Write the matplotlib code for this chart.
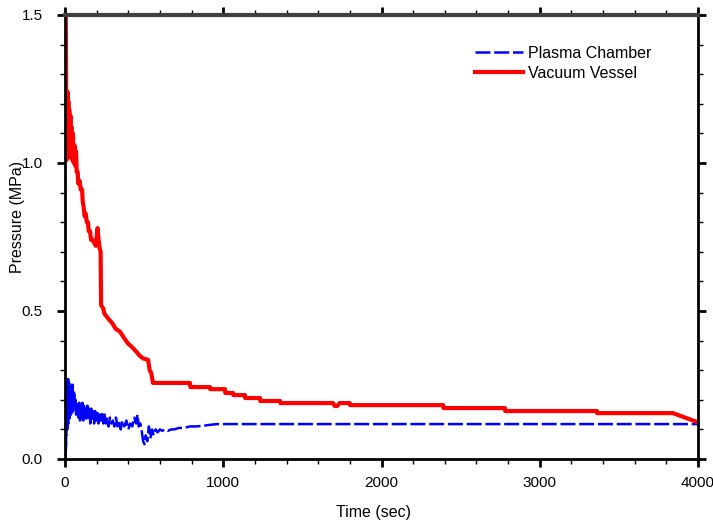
import numpy as np
import matplotlib
matplotlib.use('Agg')
import matplotlib.pyplot as plt
from matplotlib.ticker import MultipleLocator

plt.rcParams['font.family'] = ['Liberation Sans', 'DejaVu Sans']

# Vacuum Vessel (red)
t_vv = [5, 7, 8, 9, 10, 12, 14, 16, 18, 21,
        24, 27, 30, 34, 38, 42, 46, 50, 55, 60,
        66, 70, 74, 80, 84, 92, 100, 108, 112, 118,
        124, 130, 138, 145, 150, 158, 165, 175, 185, 195,
        200, 206, 212, 220, 225, 228, 240, 250, 265, 280,
        297, 320, 348, 372, 398, 420, 455, 470, 493, 525,
        535, 545, 556, 790, 792, 916, 918, 1011, 1013, 1062,
        1064, 1137, 1139, 1232, 1234, 1359, 1361, 1693, 1705, 1720,
        1735, 1800, 1802, 2390, 2392, 2780, 2782, 3361, 3363, 3842,
        3994]
p_vv = [1.50, 1.30, 1.04, 1.23, 1.01, 1.22, 1.03, 1.24, 1.02, 1.21,
        1.05, 1.18, 1.02, 1.16, 1.04, 1.12, 1.01, 1.10, 1.00, 1.06,
        0.99, 1.04, 0.97, 0.97, 0.93, 0.94, 0.91, 0.91, 0.87, 0.85,
        0.82, 0.83, 0.80, 0.80, 0.77, 0.77, 0.74, 0.74, 0.73, 0.72,
        0.75, 0.78, 0.74, 0.71, 0.70, 0.52, 0.51, 0.49, 0.48, 0.47,
        0.46, 0.44, 0.43, 0.41, 0.39, 0.38, 0.36, 0.35, 0.34, 0.335,
        0.30, 0.29, 0.257, 0.257, 0.243, 0.243, 0.236, 0.236, 0.223, 0.223,
        0.216, 0.216, 0.206, 0.206, 0.196, 0.196, 0.189, 0.189, 0.179, 0.179,
        0.189, 0.189, 0.182, 0.182, 0.172, 0.172, 0.162, 0.162, 0.155, 0.155,
        0.125]

# Plasma Chamber (blue)
t_pc = [0, 1, 2, 3, 4, 5, 6, 7, 8, 9,
        10, 12, 14, 16, 18, 20, 22, 24, 26, 28,
        30, 32, 34, 36, 38, 40, 43, 46, 49, 52,
        55, 58, 62, 66, 70, 74, 78, 82, 86, 90,
        95, 100, 105, 110, 115, 120, 125, 130, 136, 142,
        148, 154, 160, 166, 172, 178, 184, 190, 197, 204,
        211, 218, 226, 234, 242, 250, 258, 266, 275, 284,
        293, 302, 312, 322, 332, 342, 352, 362, 375, 388,
        400, 412, 425, 438, 450, 458, 466, 476, 486, 494,
        502, 510, 520, 530, 540, 550, 560, 572, 585, 600,
        615, 630, 650, 670, 690, 720, 750, 790, 830, 870,
        910, 960, 1000, 4000]
p_pc = [0.00, 0.25, 0.02, 0.26, 0.05, 0.24, 0.03, 0.27, 0.08, 0.25,
        0.12, 0.26, 0.10, 0.25, 0.14, 0.27, 0.12, 0.24, 0.15, 0.26,
        0.13, 0.23, 0.16, 0.25, 0.15, 0.22, 0.17, 0.26, 0.16, 0.21,
        0.17, 0.23, 0.16, 0.20, 0.15, 0.19, 0.16, 0.18, 0.14, 0.19,
        0.13, 0.18, 0.14, 0.19, 0.13, 0.18, 0.14, 0.17, 0.13, 0.18,
        0.14, 0.17, 0.12, 0.17, 0.13, 0.16, 0.12, 0.17, 0.13, 0.16,
        0.12, 0.15, 0.13, 0.16, 0.12, 0.15, 0.12, 0.14, 0.11, 0.14,
        0.12, 0.13, 0.11, 0.14, 0.11, 0.13, 0.10, 0.13, 0.11, 0.13,
        0.10, 0.12, 0.11, 0.14, 0.12, 0.15, 0.11, 0.12, 0.09, 0.06,
        0.05, 0.08, 0.06, 0.11, 0.07, 0.10, 0.08, 0.10, 0.09, 0.10,
        0.095, 0.10, 0.095, 0.10, 0.10, 0.105, 0.105, 0.11, 0.11, 0.112,
        0.115, 0.118, 0.118, 0.118]

fig = plt.figure(figsize=(7.13, 5.27), dpi=100)
ax = fig.add_axes([65/713, 68/527, 633/713, 444/527])

ax.plot(t_pc, p_pc, color='#0000ff', lw=1.8, ls=(0, (6, 1.5)), label='Plasma Chamber')
ax.plot(t_vv, p_vv, color='#ff0000', lw=3.0, label='Vacuum Vessel')

ax.set_xlim(0, 4000)
ax.set_ylim(0, 1.5)
ax.xaxis.set_major_locator(MultipleLocator(1000))
ax.xaxis.set_minor_locator(MultipleLocator(200))
ax.yaxis.set_major_locator(MultipleLocator(0.5))
ax.yaxis.set_minor_locator(MultipleLocator(0.1))
ax.yaxis.set_major_formatter(plt.FormatStrFormatter('%.1f'))

ax.tick_params(which='both', direction='out', top=True, right=True,
               labeltop=False, labelright=False)
ax.tick_params(which='major', length=6, width=2, labelsize=11)
ax.tick_params(axis='x', which='major', pad=6)
ax.tick_params(axis='y', which='major', pad=10)
ax.tick_params(which='minor', length=3.5, width=1)
for s in ax.spines.values():
    s.set_linewidth(2)
ax.spines['top'].set_color('#404040')
ax.spines['top'].set_linewidth(3)

ax.set_xlabel('Time (sec)', fontsize=11.5)
ax.set_ylabel('Pressure (MPa)', fontsize=11.5)
ax.xaxis.set_label_coords(0.487, -0.104)
ax.yaxis.set_label_coords(-0.063, 0.545)

ax.legend(loc='upper left', bbox_to_anchor=(0.638, 0.945), frameon=False,
          fontsize=11.5, handlelength=3.0, handletextpad=0.3, labelspacing=0.3,
          borderaxespad=0)

fig.savefig('out.png', dpi=100)
